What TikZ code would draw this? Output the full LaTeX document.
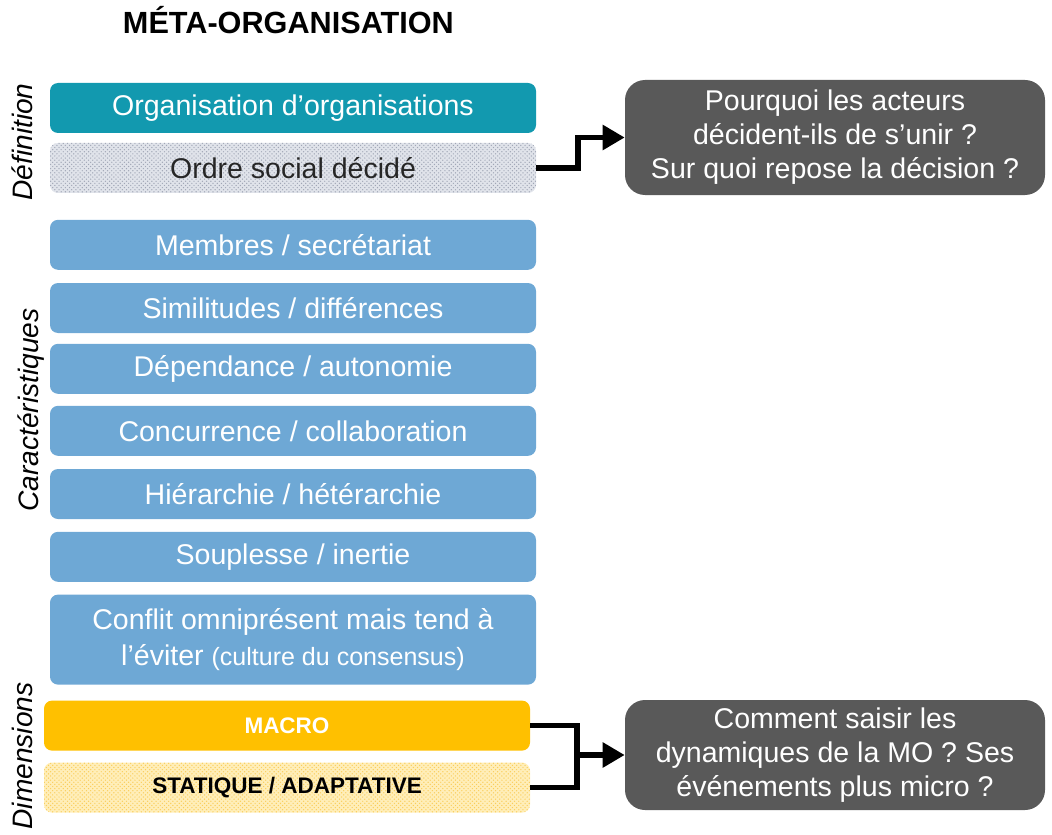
\documentclass[tikz,border=0pt]{standalone}
\usepackage{fontspec}
\setmainfont{Liberation Sans}
\usetikzlibrary{arrows.meta,patterns}

\definecolor{defteal}{RGB}{18,153,175}
\definecolor{carblue}{RGB}{110,168,213}
\definecolor{ordgrey}{RGB}{224,227,234}
\definecolor{ordgreydot}{RGB}{160,166,182}
\definecolor{macroorange}{RGB}{255,192,0}
\definecolor{statorange}{RGB}{255,238,185}
\definecolor{statorangedot}{RGB}{250,205,90}
\definecolor{qgrey}{RGB}{89,89,89}

\begin{document}
\begin{tikzpicture}
	[
		B/.style = {rectangle, rounded corners=0.2cm, align=center, draw=none, inner sep=0pt,
			minimum width=12.15cm, minimum height=1.25cm, text=white,
			font=\fontsize{20.3}{25.6}\selectfont},
		D/.style = {B, font=\fontsize{16}{19}\selectfont\bfseries},
		Q/.style = {rectangle, rounded corners=0.5cm, align=center, fill=qgrey, text=white,
			minimum width=10.5cm, inner sep=0pt, font=\fontsize{20.3}{24.2}\selectfont},
		L/.style = {rotate=90, font=\fontsize{20}{24}\selectfont\itshape},
		C/.style = {line width=0.14cm},
		A/.style = {C, -{Triangle[length=0.55cm,width=0.6cm]}},
	]

	\useasboundingbox (0,0) rectangle (26.3,-20.875);

	% title
	\node (title) at ( 7.21,-0.5 ) {\fontsize{21.8}{26}\selectfont\bfseries MÉTA-ORGANISATION};

	% side labels
	\node[L] (ldef) at ( 0.55,-3.55 ) {Définition};
	\node[L] (lcar) at ( 0.77,-10.25 ) {Caractéristiques};
	\node[L] (ldim) at ( 0.55,-18.9 ) {Dimensions};

	% definition
	\node[B, fill=defteal] (orga) at ( 7.325,-2.7 ) {Organisation d’organisations};
	\node[B, fill=ordgrey, text={rgb,255:red,38;green,38;blue,38},
		postaction={pattern=crosshatch dots, pattern color=ordgreydot}] (ordre) at ( 7.325,-4.2 ) {Ordre social décidé};

	% characteristics
	\node[B, fill=carblue] (c1) at ( 7.325,-6.12 ) {Membres / secrétariat};
	\node[B, fill=carblue] (c2) at ( 7.325,-7.7 ) {Similitudes / différences};
	\node[B, fill=carblue] (c3) at ( 7.325,-9.22 ) {Dépendance / autonomie};
	\node[B, fill=carblue] (c4) at ( 7.325,-10.77 ) {Concurrence / collaboration};
	\node[B, fill=carblue] (c5) at ( 7.325,-12.35 ) {Hiérarchie / hétérarchie};
	\node[B, fill=carblue] (c6) at ( 7.325,-13.92 ) {Souplesse / inertie};
	\node[B, fill=carblue, minimum height=2.25cm] (c7) at ( 7.325,-15.99 )
		{Conflit omniprésent mais tend à\\l’éviter {\fontsize{17.8}{20}\selectfont(culture du consensus)}};

	% dimensions
	\node[D, fill=macroorange] (macro) at ( 7.175,-18.14 ) {MACRO};
	\node[D, fill=statorange, text=black,
		postaction={pattern=crosshatch dots, pattern color=statorangedot}] (stat) at ( 7.175,-19.69 ) {STATIQUE / ADAPTATIVE};

	% questions
	\node[Q, minimum height=2.875cm] (q1) at ( 20.875,-3.4375 )
		{Pourquoi les acteurs\\décident-ils de s’unir ?\\Sur quoi repose la décision ?};
	\node[Q, minimum height=2.75cm] (q2) at ( 20.875,-18.875 )
		{Comment saisir les\\dynamiques de la MO ? Ses\\événements plus micro ?};

	% connectors
	\draw[A] (ordre.east) -- ++(1.05,0) |- (q1.west);
	\coordinate (join) at ( 14.425,-18.875 );
	\draw[C] (macro.east) -| (join) |- (stat.east);
	\draw[A] (join) -- (q2.west);

\end{tikzpicture}
\end{document}
